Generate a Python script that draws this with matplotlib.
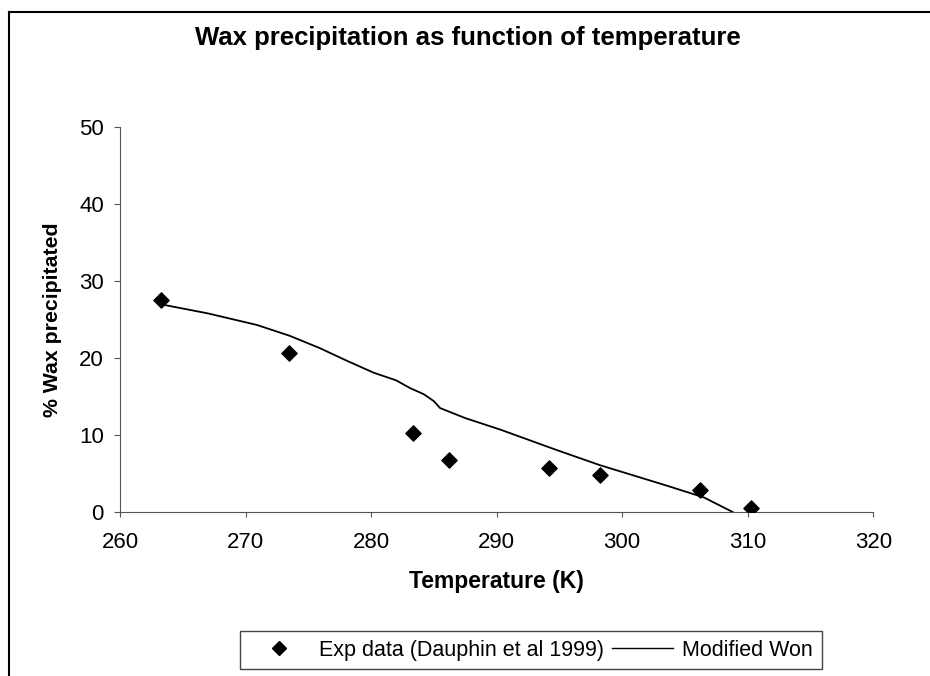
import matplotlib.pyplot as plt
from matplotlib.lines import Line2D

plt.rcParams['font.family'] = ['Liberation Sans', 'DejaVu Sans']

# experimental data (Dauphin et al 1999)
exp_T = [263.3, 273.5, 283.3, 286.2, 294.2, 298.2, 306.2, 310.3]
exp_wax = [27.6, 20.7, 10.3, 6.7, 5.7, 4.8, 2.8, 0.5]

# modified Won model curve
model_T = [263.2, 267.0, 270.9, 273.5, 275.9, 278.0, 280.2, 282.0, 283.1,
           284.2, 285.0, 285.5, 287.5, 290.3, 294.7, 298.2, 303.6, 306.5, 308.8]
model_wax = [27.0, 25.8, 24.3, 22.9, 21.3, 19.7, 18.1, 17.1, 16.1,
             15.3, 14.4, 13.5, 12.2, 10.7, 8.1, 6.1, 3.4, 1.9, 0.0]

fig = plt.figure(figsize=(9.3, 6.76), dpi=100)
ax = fig.add_axes([0.129, 0.2426, 0.81, 0.5694])

ax.plot(model_T, model_wax, color='black', lw=1.3, label='Modified Won')
ax.scatter(exp_T, exp_wax, marker='D', s=60, color='black', zorder=3,
           label='Exp data (Dauphin et al 1999)')

ax.set_xlim(260, 320)
ax.set_ylim(0, 50)
ax.set_xticks(range(260, 321, 10))
ax.set_yticks(range(0, 51, 10))
ax.tick_params(labelsize=16, color='#555555', width=0.8, direction='out')
ax.tick_params(axis='x', pad=11, length=3.5)
ax.tick_params(axis='y', pad=7, length=4.5)
for s in ['top', 'right']:
    ax.spines[s].set_visible(False)
for s in ['left', 'bottom']:
    ax.spines[s].set_color('#555555')
    ax.spines[s].set_linewidth(0.8)

ax.set_xlabel('Temperature (K)', fontsize=16.5, fontweight='bold', labelpad=12)
ax.set_ylabel('% Wax precipitated', fontsize=15.3, fontweight='bold', labelpad=12)
fig.text(0.503, 0.944, 'Wax precipitation as function of temperature',
         fontsize=18.5, fontweight='bold', ha='center', va='center')

handles = [Line2D([], [], marker='D', color='black', ls='none', markersize=7),
           Line2D([], [], color='black', lw=1.0)]
fig.legend(handles, ['Exp data (Dauphin et al 1999)', 'Modified Won'],
           loc='center', bbox_to_anchor=(0.571, 0.038), ncol=2, fontsize=15.5,
           frameon=True, fancybox=False, edgecolor='#444444', framealpha=1,
           handlelength=2.8, columnspacing=0.4, handletextpad=0.45,
           borderpad=0.4, borderaxespad=0)

# page border
fig.add_artist(Line2D([0.01, 0.01], [0, 0.982], color='black', lw=1.5,
                      transform=fig.transFigure))
fig.add_artist(Line2D([0.01, 1.0], [0.982, 0.982], color='black', lw=1.5,
                      transform=fig.transFigure))

fig.savefig('out.png', dpi=100)
